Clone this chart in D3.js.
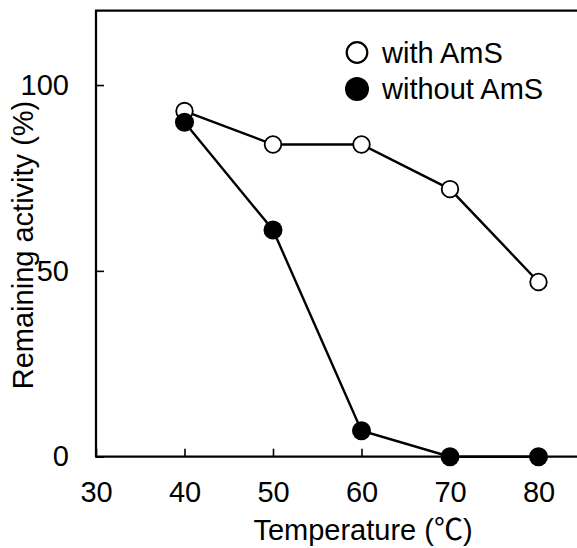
<!DOCTYPE html>
<html>
<head>
<meta charset="utf-8">
<script src="https://cdn.jsdelivr.net/npm/d3@7"></script>
<style>
  html, body { margin: 0; padding: 0; background: #fff; }
  svg { display: block; }
  text { font-family: "Liberation Sans", Arial, sans-serif; fill: #000; }
</style>
</head>
<body>
<svg id="chart" width="577" height="548"></svg>
<script>
// Data
const temperatures = [40, 50, 60, 70, 80];
const withAmS = [93, 84, 84, 72, 47];
const withoutAmS = [90, 61, 7, 0, 0];
const xTicks = [30, 40, 50, 60, 70, 80];
const yTicks = [0, 50, 100];
const seriesNames = ["with AmS", "without AmS"];

const svg = d3.select("#chart");
const x = d3.scaleLinear().domain([30, 90]).range([96, 627]);
const y = d3.scaleLinear().domain([0, 120]).range([456.7, 10.7]);

const fontSize = 29;
const axisW = 2.25;
const ff = '"Liberation Sans", Arial, sans-serif';

// Frame: left, bottom, top
const g = svg.append("g");
g.append("line").attr("x1", x(30)).attr("x2", x(30)).attr("y1", y(120)).attr("y2", y(0))
  .attr("stroke", "#000").attr("stroke-width", axisW);
g.append("line").attr("x1", x(30) - 1).attr("x2", x(90)).attr("y1", y(0)).attr("y2", y(0))
  .attr("stroke", "#000").attr("stroke-width", axisW);
g.append("line").attr("x1", x(30) - 1).attr("x2", x(90)).attr("y1", y(120)).attr("y2", y(120))
  .attr("stroke", "#000").attr("stroke-width", axisW);

// X axis ticks (inward) and labels
const xAxis = d3.axisBottom(x).tickValues(xTicks).tickSizeInner(-8).tickSizeOuter(0).tickPadding(18);
const gx = svg.append("g").attr("transform", `translate(0,${y(0)})`).call(xAxis);
gx.select(".domain").remove();
gx.selectAll(".tick line").attr("stroke", "#000").attr("stroke-width", 1.6);
gx.selectAll(".tick text").attr("font-size", fontSize).attr("dy", "0").attr("y", 45)
  .style("font-family", ff).attr("fill", "#000");

// Y axis ticks (inward) and labels
const yAxis = d3.axisLeft(y).tickValues(yTicks).tickSizeInner(-8).tickSizeOuter(0).tickPadding(27);
const gy = svg.append("g").attr("transform", `translate(${x(30)},0)`).call(yAxis);
gy.select(".domain").remove();
gy.selectAll(".tick line").attr("stroke", "#000").attr("stroke-width", 1.6);
gy.selectAll(".tick text").attr("font-size", fontSize)
  .style("font-family", ff).attr("fill", "#000");

// Axis titles
const xt = svg.append("text").attr("x", 363).attr("y", 540).attr("text-anchor", "middle")
  .attr("font-size", fontSize);
xt.append("tspan").text("Temperature (");
xt.append("tspan").style("font-family", '"Noto Sans CJK JP", "Noto Sans CJK SC", sans-serif').text("℃");
xt.append("tspan").text(")");
svg.append("text").attr("transform", "translate(32.5,245) rotate(-90)").attr("text-anchor", "middle")
  .attr("font-size", fontSize).text("Remaining activity (%)");

// Series
const line = d3.line().x(d => x(d[0])).y(d => y(d[1]));
const d1 = temperatures.map((t, i) => [t, withAmS[i]]);
const d2 = temperatures.map((t, i) => [t, withoutAmS[i]]);

svg.append("path").datum(d1).attr("d", line).attr("fill", "none").attr("stroke", "#000").attr("stroke-width", 2.4);
svg.selectAll(".p1").data(d1).enter().append("circle")
  .attr("cx", d => x(d[0])).attr("cy", d => y(d[1])).attr("r", 8.3)
  .attr("fill", "#fff").attr("stroke", "#000").attr("stroke-width", 1.8);

svg.append("path").datum(d2).attr("d", line).attr("fill", "none").attr("stroke", "#000").attr("stroke-width", 2.4);
svg.selectAll(".p2").data(d2).enter().append("circle")
  .attr("cx", d => x(d[0])).attr("cy", d => y(d[1])).attr("r", 9.5)
  .attr("fill", "#000");

// Legend
const leg = svg.append("g");
leg.append("circle").attr("cx", 357).attr("cy", 52.5).attr("r", 10.3)
  .attr("fill", "#fff").attr("stroke", "#000").attr("stroke-width", 2.2);
leg.append("text").attr("x", 382).attr("y", 62.5).attr("font-size", fontSize).text(seriesNames[0]);
leg.append("circle").attr("cx", 357).attr("cy", 89).attr("r", 12)
  .attr("fill", "#000");
leg.append("text").attr("x", 382).attr("y", 98.5).attr("font-size", fontSize).text(seriesNames[1]);
</script>
</body>
</html>
